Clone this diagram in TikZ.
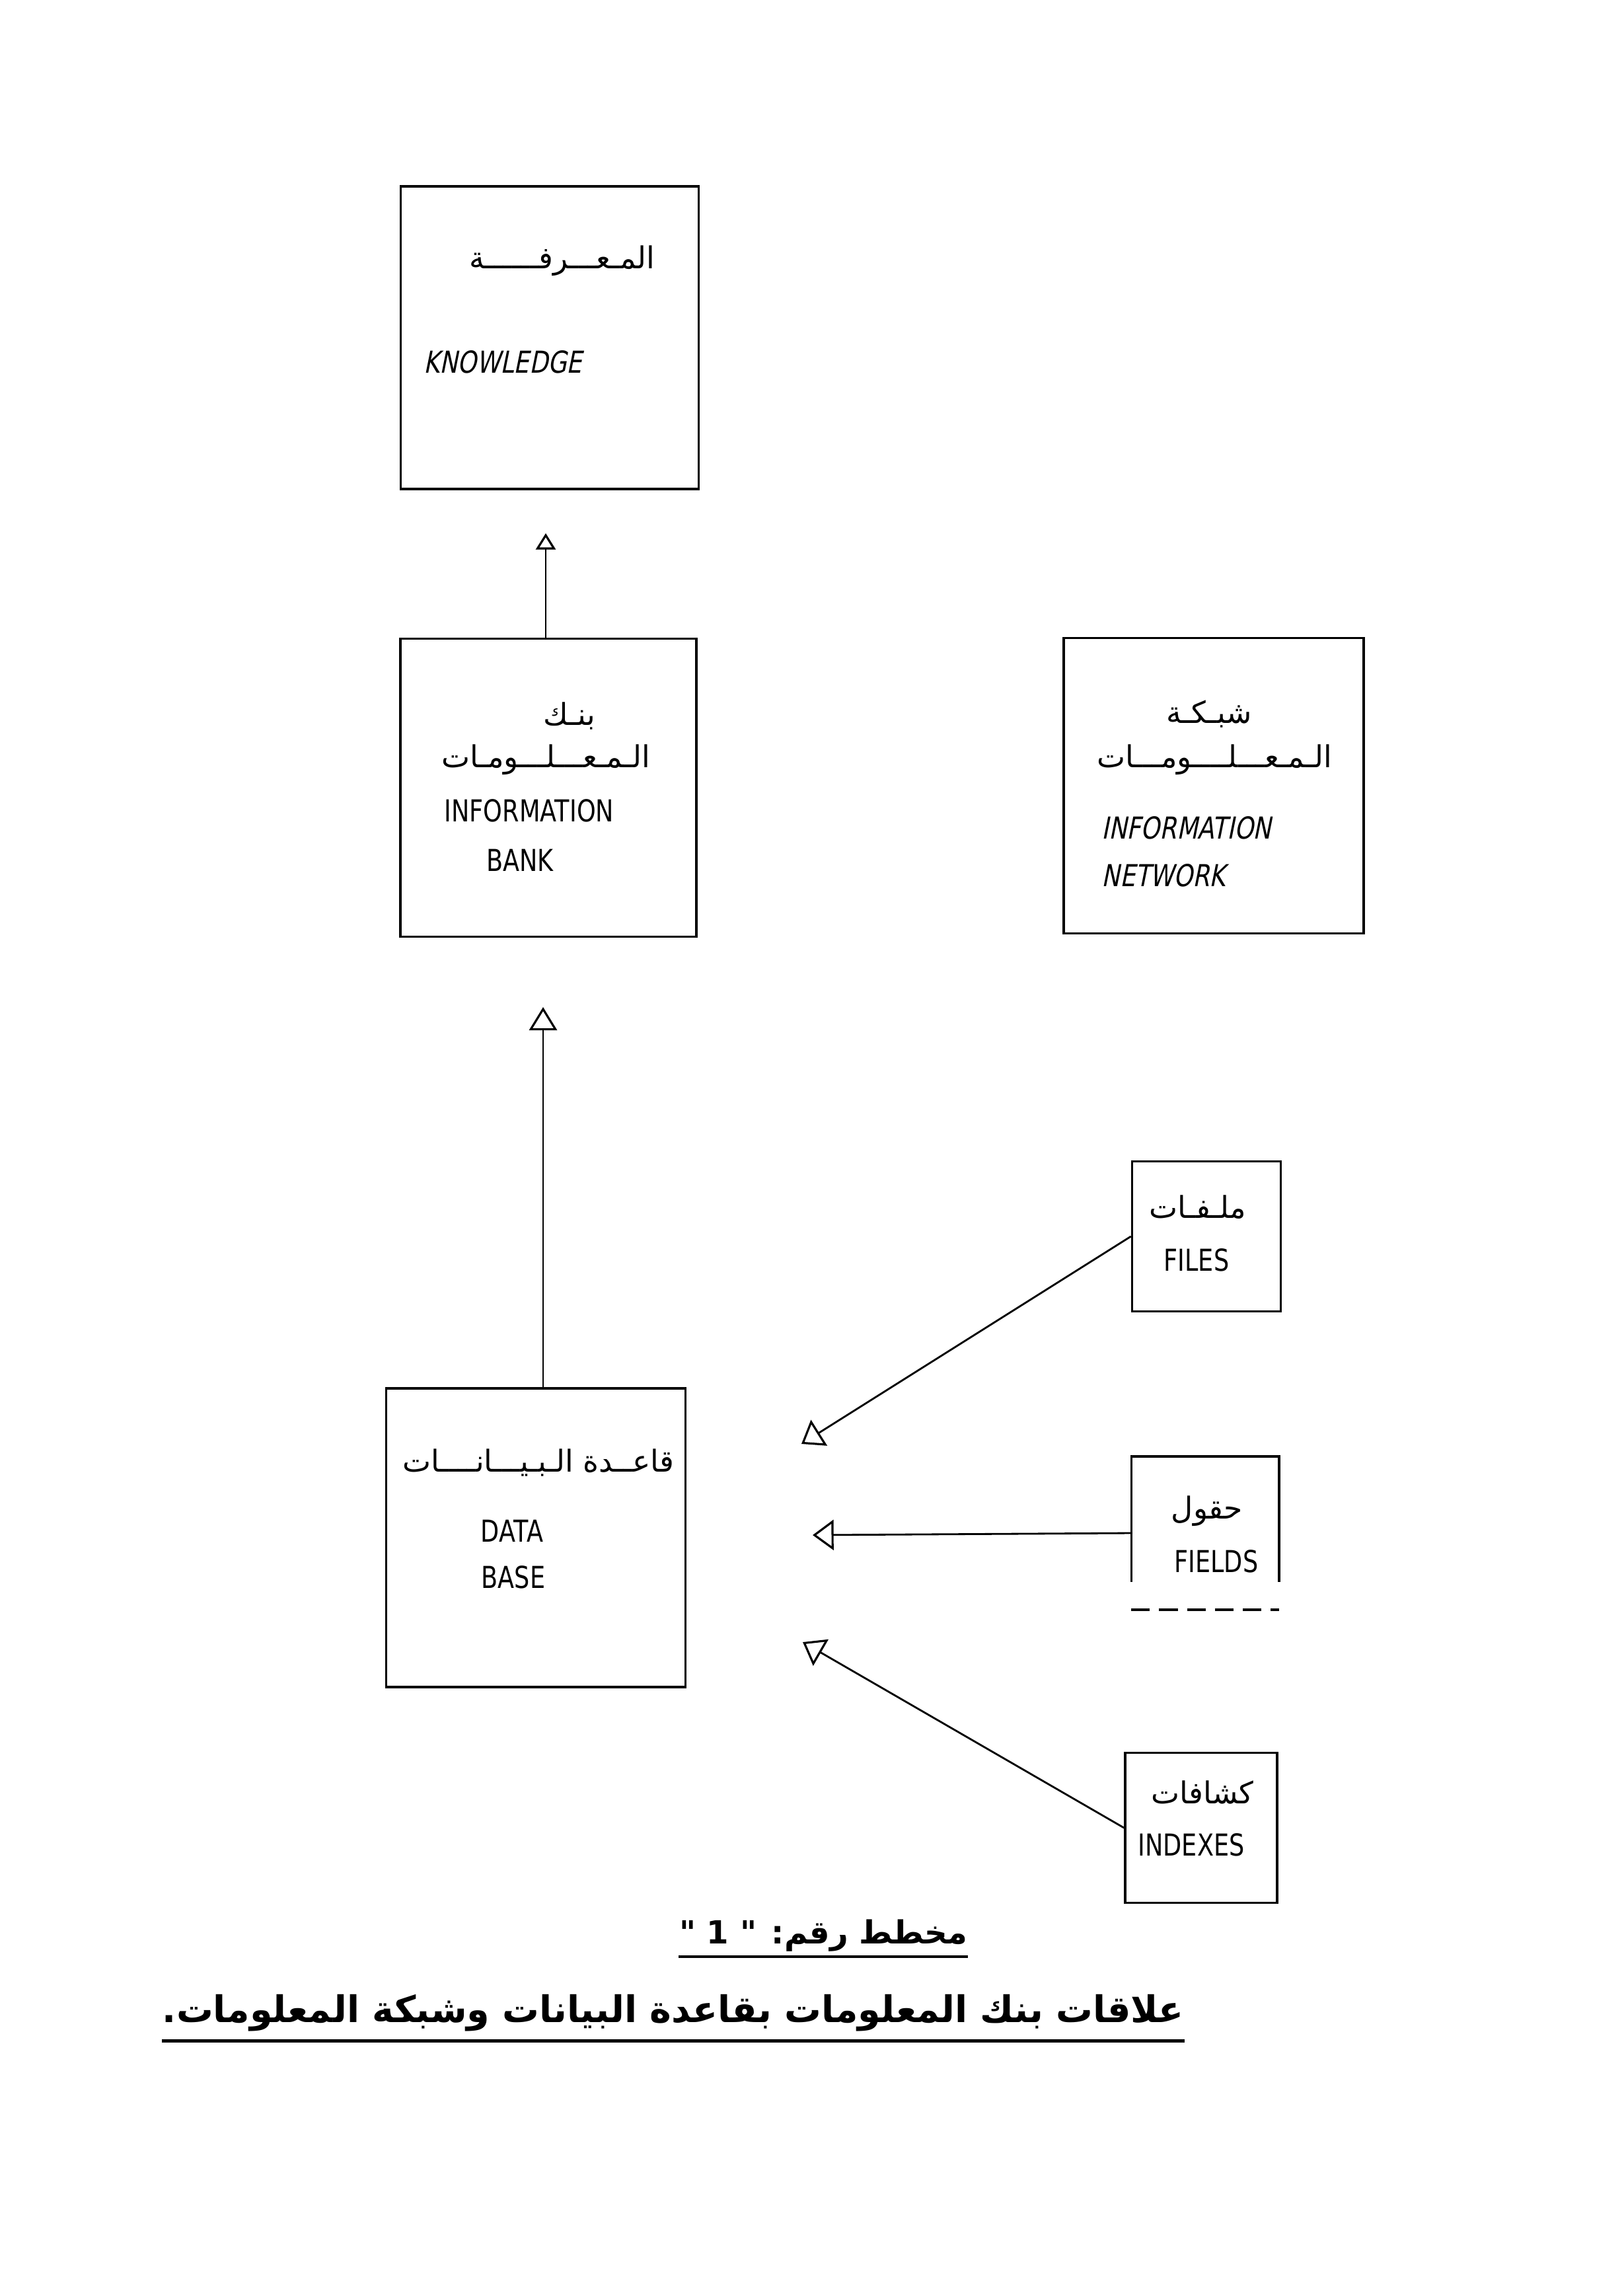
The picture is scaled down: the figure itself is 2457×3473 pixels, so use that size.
\documentclass[tikz,border=0pt]{standalone}
\usepackage{fontspec}
\usetikzlibrary{arrows.meta}
\newfontfamily\latinfont{DejaVu Sans}[FakeStretch=0.8]
\newfontfamily\latinslant{DejaVu Sans}[FakeStretch=0.8,FakeSlant=0.2]
\newfontfamily\arabicfont[Script=Arabic]{DejaVu Sans}
\TeXXeTstate=1

\begin{document}
\begin{tikzpicture}[
  x=0.01cm, y=-0.01cm,
  box/.style={draw, line width=1pt, inner sep=0pt},
  link/.style={line width=0.8pt},
  head/.style={-{Triangle[open, length=9pt, width=13pt, line width=0.9pt]}},
  ar/.style={font=\arabicfont\fontsize{13}{15}\selectfont, inner sep=0pt},
  en/.style={font=\latinfont\fontsize{13}{15}\selectfont, inner sep=0pt},
  ensl/.style={font=\latinslant\fontsize{13}{15}\selectfont, inner sep=0pt}
]
  \fill[white] (0,0) rectangle (2457,3473);
  \useasboundingbox (0,0) rectangle (2457,3473);

  % boxes
  \node[box, minimum width=4.51cm, minimum height=4.58cm] (know) at (832,511) {};
  \node[box, minimum width=4.48cm, minimum height=4.51cm] (bank) at (830,1192) {};
  \node[box, minimum width=4.54cm, minimum height=4.47cm] (net) at (1837,1189) {};
  \node[box, minimum width=4.53cm, minimum height=4.52cm] (base) at (811,2327) {};
  \node[box, minimum width=2.25cm, minimum height=2.27cm] (files) at (1826,1871) {};
  \node[inner sep=0pt, minimum width=2.22cm, minimum height=2.30cm] (fields) at (1824,2320) {};
  \node[box, minimum width=2.30cm, minimum height=2.27cm] (indexes) at (1818,2766) {};

  \draw[line width=1pt] ([yshift=12pt]fields.south west) -- (fields.north west)
    -- (fields.north east) -- ([yshift=12pt]fields.south east);
  \draw[line width=1pt, dash pattern=on 8pt off 4pt] (fields.south west) -- (fields.south east);

  % texts
  \node[ar] (knowar) at (851,395) {\beginR المـعـــرفــــــة\endR};
  \node[ensl] (knowen) at (761,548) {KNOWLEDGE};

  \node[ar] (bankar1) at (862,1083) {\beginR بنـك\endR};
  \node[ar] (bankar2) at (826,1150) {\beginR الـمـعـــلـــومـات\endR};
  \node[en] (banken1) at (801,1227) {INFORMATION};
  \node[en] (banken2) at (787,1302) {BANK};

  \node[ar] (netar1) at (1830,1080) {\beginR شبـكـة\endR};
  \node[ar] (netar2) at (1838,1150) {\beginR الـمـعـــلــــومـــات\endR};
  \node[ensl, anchor=west] (neten1) at (1667,1253) {INFORMATION};
  \node[ensl, anchor=west] (neten2) at (1667,1325) {NETWORK};

  \node[ar] (basear) at (815,2213) {\beginR قاعــدة الـبـيـــانــــات\endR};
  \node[en] (baseen1) at (775,2317) {DATA};
  \node[en] (baseen2) at (777,2387) {BASE};

  \node[ar] (filesar) at (1813,1827) {\beginR ملـفـات\endR};
  \node[en] (filesen) at (1811,1907) {FILES};
  \node[ar] (fieldsar) at (1827,2287) {\beginR حقول\endR};
  \node[en] (fieldsen) at (1841,2363) {FIELDS};
  \node[ar] (indexar) at (1820,2712) {\beginR كشافات\endR};
  \node[en] (indexen) at (1803,2792) {INDEXES};

  % arrows
  \coordinate (knowtip) at (826,807);
  \coordinate (banktip) at (822,1524);
  \coordinate (filestip) at (1213,2185);
  \coordinate (fieldstip) at (1230,2323);
  \coordinate (indextip) at (1215,2485);

  \draw[link, -{Triangle[open, length=7pt, width=8.5pt, line width=0.9pt]}] (bank.north -| knowtip) -- (knowtip);
  \draw[link, -{Triangle[open, length=10pt, width=12pt, line width=0.9pt]}] (base.north -| banktip) -- (banktip);
  \draw[link, head] (files.west) -- (filestip);
  \draw[link, head] (fields.west) -- (fieldstip);
  \draw[link, head] (indexes.west) -- (indextip);

  % caption
  \node[font=\arabicfont\bfseries\fontsize{13.7}{16}\selectfont, inner sep=0pt] (caption) at (1246,2929)
    {\beginR مخطط رقم: " 1 "\endR};
  \draw[line width=1.2pt] ([yshift=-2pt]caption.south west) -- ([yshift=-2pt]caption.south east);

  \node[font=\arabicfont\bfseries\fontsize{15.8}{19}\selectfont, inner sep=0pt] (title) at (1019,3046)
    {\beginR علاقات بنك المعلومات بقاعدة البيانات وشبكة المعلومات.\endR};
  \draw[line width=1.4pt] ([yshift=-4pt]title.south west) -- ([yshift=-4pt]title.south east);
\end{tikzpicture}
\end{document}
